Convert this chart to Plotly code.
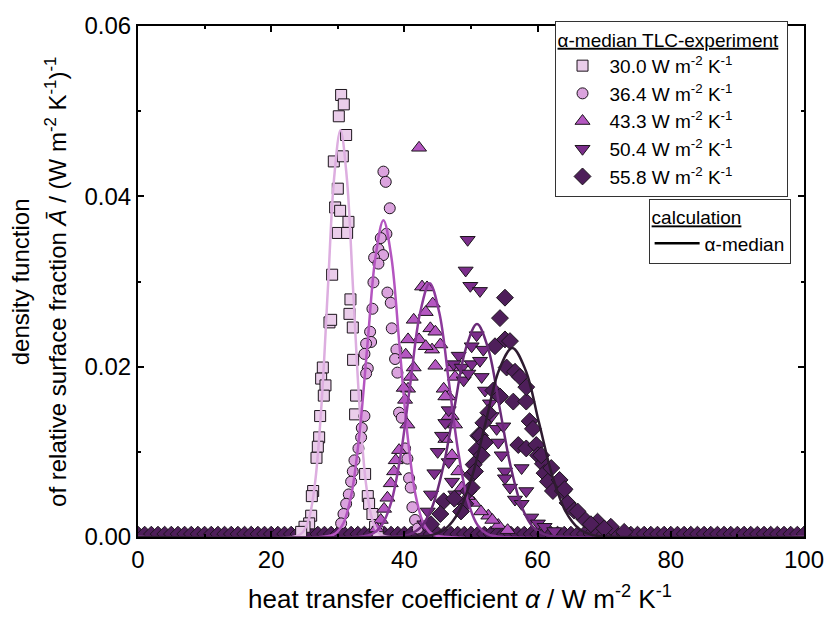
import plotly.graph_objects as go

# ---------------- data ----------------
# TLC experiment (markers)
S1_X = [30.5, 30.9, 30.15, 31.25, 29.4, 30.75, 30.0, 29.6, 30.35, 31.6, 30.0, 31.4, 29.15, 31.9, 31.75,
        32.25, 28.75, 29.0, 32.3, 27.75, 27.5, 28.15, 27.9, 32.75, 32.6, 27.35, 27.2, 27.0, 26.8, 34.1,
        26.3, 26.1, 34.5, 34.7, 26.0, 25.7, 35.2, 25.0, 35.6, 24.5, 36.0]
S1_Y = [0.0519, 0.0508, 0.0494, 0.0472, 0.0441, 0.0447, 0.0409, 0.0387, 0.0383, 0.0370, 0.0357, 0.0357,
        0.0308, 0.0279, 0.0262, 0.0246, 0.0252, 0.0255, 0.0208, 0.0199, 0.0186, 0.0178, 0.0166, 0.0166,
        0.0144, 0.0142, 0.0117, 0.0106, 0.0093, 0.0074, 0.0054, 0.0048, 0.0048, 0.0039, 0.0025, 0.0016,
        0.0027, 0.0012, 0.0012, 0.0006, 0.0006]

S2_X = [36.85, 37.2, 37.8, 37.3, 36.45, 36.1, 36.8, 35.45, 36.1, 35.35, 37.45, 37.95, 35.2, 38.1, 34.85,
        35.0, 34.25, 38.8, 38.6, 34.0, 34.5, 34.25, 38.95, 39.2, 39.6, 34.0, 33.6, 33.5, 33.1, 40.1,
        40.45, 32.5, 32.25, 32.0, 40.7, 40.95, 31.65, 31.25, 30.85, 30.5, 41.2, 41.6, 42.0]
S2_Y = [0.0429, 0.0417, 0.0386, 0.0356, 0.0351, 0.0338, 0.0331, 0.0328, 0.0321, 0.0299, 0.0287, 0.0275,
        0.0268, 0.0245, 0.0241, 0.0229, 0.0227, 0.0220, 0.0209, 0.0215, 0.0198, 0.0192, 0.0193, 0.0146,
        0.0140, 0.0142, 0.0128, 0.0117, 0.0104, 0.0104, 0.0092, 0.0090, 0.0077, 0.0065, 0.0069, 0.0058,
        0.0050, 0.0039, 0.0027, 0.0016, 0.0035, 0.0020, 0.0010]

S3_X = [42.2, 42.65, 43.4, 44.25, 43.2, 41.4, 43.9, 44.65, 42.2, 40.55, 45.4, 44.15, 43.2, 44.65, 41.4,
        40.95, 40.55, 47.1, 47.6, 45.9, 46.65, 40.1, 40.45, 47.1, 47.6, 39.2, 38.7, 38.45, 37.95, 37.45,
        36.95, 36.45, 46.15, 46.65, 46.15, 47.15, 48.1, 48.6, 50.4, 52.6, 54.1, 49.5, 51.5, 53.2, 35.8,
        55.5, 40.2, 39.9]
S3_Y = [0.0457, 0.0294, 0.0293, 0.0274, 0.0264, 0.0255, 0.0245, 0.0241, 0.0232, 0.0232, 0.0226, 0.0220,
        0.0224, 0.0201, 0.0199, 0.0188, 0.0174, 0.0199, 0.0188, 0.0174, 0.0165, 0.0161, 0.0132, 0.0142,
        0.0132, 0.0102, 0.0090, 0.0077, 0.0063, 0.0046, 0.0033, 0.0020, 0.0165, 0.0142, 0.0115, 0.0096,
        0.0077, 0.0058, 0.0040, 0.0025, 0.0014, 0.0048, 0.0030, 0.0020, 0.0010, 0.0008, 0.0214, 0.0175]

S4_X = [49.5, 49.2, 49.9, 51.35, 50.85, 50.1, 51.85, 48.15, 47.4, 48.6, 50.1, 51.35, 48.9, 49.6, 51.6,
        52.1, 52.85, 46.65, 46.15, 45.65, 53.1, 53.85, 54.1, 54.85, 54.6, 55.1, 57.6, 58.3, 46.65, 47.15,
        47.65, 55.1, 55.85, 56.6, 57.6, 59.05, 60.05, 61.05, 45.0, 44.5, 44.0, 43.5, 43.0, 62.5]
S4_Y = [0.0349, 0.0313, 0.0295, 0.0289, 0.0237, 0.0224, 0.0220, 0.0213, 0.0203, 0.0199, 0.0203, 0.0207,
        0.0184, 0.0192, 0.0188, 0.0172, 0.0157, 0.0149, 0.0134, 0.0119, 0.0142, 0.0127, 0.0111, 0.0130,
        0.0096, 0.0077, 0.0081, 0.0054, 0.0088, 0.0065, 0.0050, 0.0069, 0.0058, 0.0044, 0.0039, 0.0023,
        0.0016, 0.0012, 0.0100, 0.0075, 0.0050, 0.0030, 0.0015, 0.0007]

S5_X = [55.1, 54.35, 53.6, 55.1, 55.85, 55.35, 56.6, 57.35, 53.35, 54.35, 56.35, 58.3, 58.3, 52.6, 51.85,
        58.8, 59.3, 51.1, 50.85, 57.1, 58.3, 59.8, 60.05, 60.8, 61.05, 50.4, 50.1, 61.55, 62.3, 63.8,
        49.6, 49.15, 64.5, 65.5, 67.0, 69.0, 71.0, 45.9, 45.4, 51.35, 52.1, 51.6, 50.6, 50.1, 60.55,
        62.05, 63.3, 64.05, 47.5, 48.5, 44.0, 66.0, 68.0, 70.0, 73.0]
S5_Y = [0.0281, 0.0257, 0.0224, 0.0232, 0.0230, 0.0199, 0.0194, 0.0188, 0.0172, 0.0165, 0.0159, 0.0159,
        0.0176, 0.0146, 0.0134, 0.0136, 0.0127, 0.0119, 0.0102, 0.0108, 0.0104, 0.0108, 0.0096, 0.0086,
        0.0075, 0.0085, 0.0073, 0.0065, 0.0054, 0.0054, 0.0054, 0.0039, 0.0040, 0.0031, 0.0021, 0.0018,
        0.0012, 0.0042, 0.0027, 0.0119, 0.0111, 0.0096, 0.0077, 0.0058, 0.0096, 0.0081, 0.0067, 0.0056,
        0.0045, 0.0030, 0.0015, 0.0030, 0.0015, 0.0010, 0.0006]

# points lying on the zero line over the whole range (diamond and down-triangle series)
BASE_X = [0, 1, 2, 3, 4, 5, 6, 7, 8, 9, 10, 11, 12, 13, 14, 15, 16, 17, 18, 19, 20, 21, 22, 23, 24, 25,
          26, 27, 28, 29, 30, 31, 32, 33, 34, 35, 36, 37, 38, 39, 40, 41, 42, 43, 44, 45, 46, 47, 48, 49,
          50, 51, 52, 53, 54, 55, 56, 57, 58, 59, 60, 61, 62, 63, 64, 65, 66, 67, 68, 69, 70, 71, 72, 73,
          74, 75, 76, 77, 78, 79, 80, 81, 82, 83, 84, 85, 86, 87, 88, 89, 90, 91, 92, 93, 94, 95, 96, 97,
          98, 99, 100]
BASE_X2 = [0.5, 1.5, 2.5, 3.5, 4.5, 5.5, 6.5, 7.5, 8.5, 9.5, 10.5, 11.5, 12.5, 13.5, 14.5, 15.5, 16.5,
           17.5, 18.5, 19.5, 20.5, 21.5, 22.5, 23.5, 24.5, 25.5, 26.5, 27.5, 28.5, 29.5, 30.5, 31.5, 32.5,
           33.5, 34.5, 35.5, 36.5, 37.5, 38.5, 39.5, 40.5, 41.5, 42.5, 43.5, 44.5, 45.5, 46.5, 47.5, 48.5,
           49.5, 50.5, 51.5, 52.5, 53.5, 54.5, 55.5, 56.5, 57.5, 58.5, 59.5, 60.5, 61.5, 62.5, 63.5, 64.5,
           65.5, 66.5, 67.5, 68.5, 69.5, 70.5, 71.5, 72.5, 73.5, 74.5, 75.5, 76.5, 77.5, 78.5, 79.5, 80.5,
           81.5, 82.5, 83.5, 84.5, 85.5, 86.5, 87.5, 88.5, 89.5, 90.5, 91.5, 92.5, 93.5, 94.5, 95.5, 96.5,
           97.5, 98.5, 99.5]
BASE_LEVEL = 0.00035

# calculation (alpha-median) curves
C1_X = [0, 23.75, 24.7, 25.65, 26.6, 27.55, 28.5, 29.45, 30.4, 31.35, 32.3, 33.25, 34.2, 35.15, 36.1, 37.05, 100]
C1_Y = [0, 0.0001, 0.00053, 0.0021, 0.00647, 0.01552, 0.0290, 0.0422, 0.0478, 0.0422, 0.0290, 0.01552,
        0.00647, 0.0021, 0.00053, 0.0001, 0]
C2_X = [0, 28.45, 29.65, 30.85, 32.05, 33.25, 34.45, 35.65, 36.85, 38.05, 39.25, 40.45, 41.65, 42.85, 44.05, 45.25, 100]
C2_Y = [0, 0.00008, 0.00041, 0.00163, 0.00503, 0.01208, 0.02256, 0.03283, 0.0372, 0.03283, 0.02256,
        0.01208, 0.00503, 0.00163, 0.00041, 0.00008, 0]
C3_X = [0, 33.65, 35.1, 36.55, 38.0, 39.45, 40.9, 42.35, 43.8, 45.25, 46.7, 48.15, 49.6, 51.05, 52.5, 53.95, 100]
C3_Y = [0, 0.000066, 0.00033, 0.00131, 0.00403, 0.00968, 0.01807, 0.0263, 0.0298, 0.0263, 0.01807,
        0.00968, 0.00403, 0.00131, 0.00033, 0.000066, 0]
C4_X = [0, 39.0, 40.7, 42.4, 44.1, 45.8, 47.5, 49.2, 50.9, 52.6, 54.3, 56.0, 57.7, 59.4, 61.1, 62.8, 100]
C4_Y = [0, 0.000055, 0.00028, 0.0011, 0.00338, 0.00812, 0.01516, 0.02206, 0.0250, 0.02206, 0.01516,
        0.00812, 0.00338, 0.0011, 0.00028, 0.000055, 0]
C5_X = [0, 42.2, 44.2, 46.2, 48.2, 50.2, 52.2, 54.2, 56.2, 58.2, 60.2, 62.2, 64.2, 66.2, 68.2, 70.2, 100]
C5_Y = [0, 0.000049, 0.00025, 0.00097, 0.0030, 0.00721, 0.01346, 0.01959, 0.0222, 0.01959, 0.01346,
        0.00721, 0.0030, 0.00097, 0.00025, 0.000049, 0]

NAMES = ["30.0", "36.4", "43.3", "50.4", "55.8"]
UNIT = " W m<sup>-2</sup> K<sup>-1</sup>"

# ---------------- styling ----------------
FONT = "Liberation Sans, Arial, Helvetica, sans-serif"
MARKER_FILL = ["#eacdea", "#dba3de", "#b457c1", "#7b2d8b", "#4e1e5a"]
LINE_COL = ["#ddaee0", "#b455c0", "#8d3a9c", "#6a2a78", "#2e1b30"]
SYMBOLS = ["square", "circle", "triangle-up", "triangle-down", "diamond"]
SIZES = [11, 11, 13, 13, 13]
EDGE = "#1c141c"

fig = go.Figure()

# zero-line points
fig.add_trace(go.Scatter(
    x=BASE_X2, y=[BASE_LEVEL] * len(BASE_X2), mode="markers", showlegend=False, hoverinfo="skip",
    marker=dict(symbol="triangle-down", size=12, color=MARKER_FILL[3], line=dict(color=EDGE, width=1))))
fig.add_trace(go.Scatter(
    x=BASE_X, y=[BASE_LEVEL] * len(BASE_X), mode="markers", showlegend=False, hoverinfo="skip",
    marker=dict(symbol="diamond", size=12, color=MARKER_FILL[4], line=dict(color=EDGE, width=1))))

series = [(S1_X, S1_Y), (S2_X, S2_Y), (S3_X, S3_Y), (S4_X, S4_Y), (S5_X, S5_Y)]
for i, (xs, ys) in enumerate(series):
    fig.add_trace(go.Scatter(
        x=xs, y=ys, mode="markers", name=NAMES[i] + UNIT, legend="legend",
        marker=dict(symbol=SYMBOLS[i], size=SIZES[i], color=MARKER_FILL[i],
                    line=dict(color=EDGE, width=1))))

curves = [(C1_X, C1_Y), (C2_X, C2_Y), (C3_X, C3_Y), (C4_X, C4_Y), (C5_X, C5_Y)]
for i, (xs, ys) in enumerate(curves):
    fig.add_trace(go.Scatter(
        x=xs, y=ys, mode="lines", showlegend=False, line_shape="spline",
        line=dict(color=LINE_COL[i], width=2.5)))

# legend entry for the calculation
fig.add_trace(go.Scatter(x=[None], y=[None], mode="lines", name="α-median", legend="legend2",
                         line=dict(color="black", width=2.5)))

axis_common = dict(showline=True, linecolor="black", linewidth=2, mirror="allticks",
                   ticks="inside", ticklen=6, tickwidth=1.5, tickcolor="black",
                   showgrid=False, zeroline=False,
                   tickfont=dict(size=24, family=FONT, color="black"))

fig.update_layout(
    width=836, height=618,
    margin=dict(l=138, r=28, t=13, b=81),
    paper_bgcolor="white", plot_bgcolor="white",
    font=dict(family=FONT, size=24, color="black"),
    xaxis=dict(range=[0, 100], tick0=0, dtick=20,
               minor=dict(dtick=10, ticks="inside", ticklen=3, tickcolor="black"), **axis_common),
    yaxis=dict(range=[0, 0.06], tick0=0, dtick=0.02, tickformat=".2f",
               minor=dict(dtick=0.01, ticks="inside", ticklen=3, tickcolor="black"), **axis_common),
    legend=dict(x=0.6254, y=1.0096, xanchor="left", yanchor="top", bgcolor="white",
                bordercolor="#333333", borderwidth=1, itemwidth=44,
                font=dict(size=19, family=FONT, color="black"),
                title=dict(text="<u>α-median TLC-experiment</u> ", font=dict(size=19, family=FONT))),
    legend2=dict(x=0.7667, y=0.662, xanchor="left", yanchor="top", bgcolor="white",
                 bordercolor="#333333", borderwidth=1, itemwidth=45,
                 font=dict(size=19, family=FONT, color="black"),
                 title=dict(text="<u>calculation</u>", font=dict(size=19, family=FONT))),
    annotations=[
        dict(text="heat transfer coefficient <i>α</i> / W m<sup>-2</sup> K<sup>-1</sup>",
             xref="paper", yref="paper", x=0.4836, y=-0.118, xanchor="center", yanchor="middle",
             showarrow=False, font=dict(size=26, family=FONT)),
        dict(text="density function", textangle=-90,
             xref="paper", yref="paper", x=-0.176, y=0.5, xanchor="center", yanchor="middle",
             showarrow=False, font=dict(size=24, family=FONT)),
        dict(text="of relative surface fraction <i>Ā</i> / (W m<sup>-2</sup> K<sup>-1</sup>)<sup>-1</sup>",
             textangle=-90, xref="paper", yref="paper", x=-0.124, y=0.5,
             xanchor="center", yanchor="middle", showarrow=False, font=dict(size=24, family=FONT)),
    ],
)

fig.write_html("out.html")
